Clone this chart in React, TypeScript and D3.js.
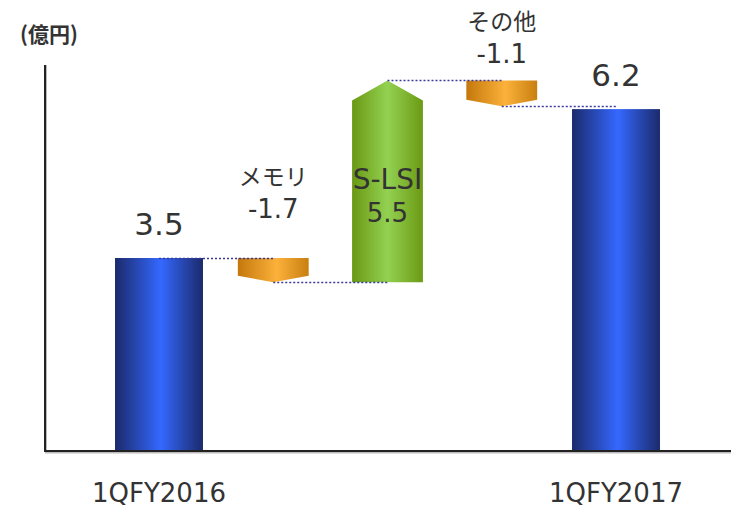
import React from "react";
import * as d3 from "d3";

// 億円, operating profit bridge
const startLabel = "1QFY2016";
const endLabel = "1QFY2017";
const startValue = 3.5;
const endValue = 6.2;
const stepNames = ["メモリ", "S-LSI", "その他"];
const stepValues = [-1.7, 5.5, -1.1];
// arrows in the source are drawn schematically, these are their drawn lengths in axis units
const stepDrawn = [-0.44, 3.66, -0.47];
const unitLabel = "(億円)";

const W = 731;
const H = 508;
const font = "'DejaVu Sans', 'Noto Sans CJK JP', sans-serif";
const jpFont = "'Noto Sans CJK JP', 'DejaVu Sans', sans-serif";

const App = () => {
  const categories = [startLabel, ...stepNames, endLabel];
  const x = d3.scalePoint<string>().domain(categories).range([159, 616]);
  const y = d3.scaleLinear().domain([0, 7]).range([451, 65]);
  const step = x.step();
  const barW = step * 0.77;
  const arrowW = step * 0.62;

  // running levels of the drawn arrows
  const levels = [startValue];
  stepDrawn.forEach((d) => levels.push(levels[levels.length - 1] + d));

  const line = d3.line();
  const arrows = stepNames.map((name, i) => {
    const cx = x(name) as number;
    const from = y(levels[i]);
    const to = y(levels[i + 1]);
    const up = stepDrawn[i] > 0;
    const head = up ? 20 : 6.5;
    const l = cx - arrowW / 2;
    const r = cx + arrowW / 2;
    const shoulder = up ? to + head : to - head;
    const pts: [number, number][] = [
      [l, from],
      [l, shoulder],
      [cx, to],
      [r, shoulder],
      [r, from],
    ];
    return { name, d: line(pts) + "Z", up, cx, i };
  });

  const connectors = categories.slice(0, -1).map((c, i) => ({
    x1: x(c) as number,
    x2: x(categories[i + 1]) as number,
    yy: Math.round(y(levels[i])) + 0.5,
  }));

  const labelBase = [218, 222, 63];
  const isLatin = (s: string) => /[A-Za-z]/.test(s);

  return (
    <div style={{ position: "absolute", left: 0, top: 0 }}>
      <svg width={W} height={H} style={{ display: "block", background: "#fff" }}>
        <defs>
          <linearGradient id="blueG" x1="0" x2="1" y1="0" y2="0">
            <stop offset="0%" stopColor="#1b2a6b" />
            <stop offset="52%" stopColor="#3468ff" />
            <stop offset="100%" stopColor="#1b2a6b" />
          </linearGradient>
          <linearGradient id="orangeG" x1="0" x2="1" y1="0" y2="0">
            <stop offset="0%" stopColor="#c4780c" />
            <stop offset="55%" stopColor="#fbb13a" />
            <stop offset="100%" stopColor="#c97f10" />
          </linearGradient>
          <linearGradient id="greenG" x1="0" x2="1" y1="0" y2="0">
            <stop offset="0%" stopColor="#6a9812" />
            <stop offset="50%" stopColor="#93d152" />
            <stop offset="100%" stopColor="#6c9a14" />
          </linearGradient>
        </defs>

        <text x={20} y={42} fontFamily={jpFont} fontWeight="bold" fontSize={21} fill="#333">
          {unitLabel}
        </text>

        {/* axes */}
        <line x1={46} x2={46} y1={y(7)} y2={y(0) + 1} stroke="#bbb" strokeWidth={2} />
        <line x1={45} x2={W} y1={y(0) + 1.5} y2={y(0) + 1.5} stroke="#bbb" strokeWidth={2} />
        <line x1={45} x2={45} y1={y(7)} y2={y(0)} stroke="#222" strokeWidth={2} />
        <line x1={44} x2={W} y1={y(0)} y2={y(0)} stroke="#222" strokeWidth={2} />

        {/* totals */}
        {[
          { c: startLabel, v: startValue },
          { c: endLabel, v: endValue },
        ].map((b) => (
          <g key={b.c}>
            <rect
              x={(x(b.c) as number) - barW / 2}
              y={y(b.v)}
              width={barW}
              height={y(0) - y(b.v) - 1}
              fill="url(#blueG)"
            />
            <text
              x={x(b.c)}
              y={y(b.v) - 23}
              textAnchor="middle"
              fontFamily={font}
              fontSize={31}
              fill="#333"
            >
              {b.v.toFixed(1)}
            </text>
            <text
              x={x(b.c)}
              y={502}
              textAnchor="middle"
              fontFamily={font}
              fontSize={26}
              fill="#333"
            >
              {b.c}
            </text>
          </g>
        ))}

        {arrows.map((a) => (
          <path key={a.name} d={a.d} fill={a.up ? "url(#greenG)" : "url(#orangeG)"} />
        ))}

        {connectors.map((c, i) => (
          <line
            key={i}
            x1={c.x1}
            x2={c.x2}
            y1={c.yy}
            y2={c.yy}
            stroke="#3a3a9c"
            strokeWidth={1.5}
            strokeDasharray="2 2"
          />
        ))}

        {arrows.map((a) => (
          <g key={"l" + a.name} fontFamily={font} fill="#333" textAnchor="middle">
            <text x={a.cx} y={labelBase[a.i] - 33} fontSize={isLatin(a.name) ? 28 : 23}>
              {a.name}
            </text>
            <text x={a.cx} y={labelBase[a.i]} fontSize={26}>
              {stepValues[a.i].toFixed(1)}
            </text>
          </g>
        ))}
      </svg>
    </div>
  );
};

export default App;
